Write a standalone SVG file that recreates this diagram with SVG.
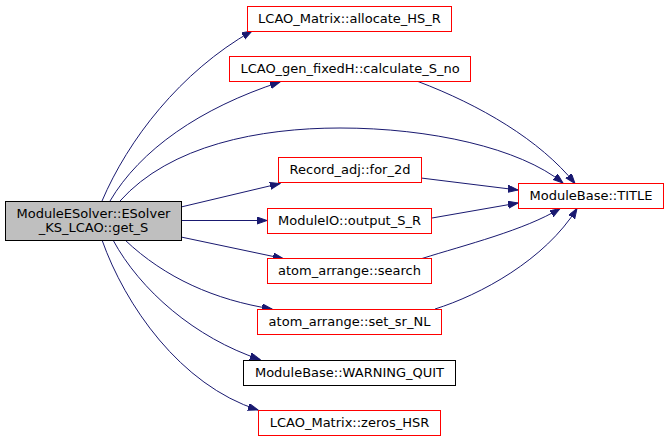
<svg xmlns="http://www.w3.org/2000/svg" width="669" height="443" viewBox="0 0 669 443">
<style>
.n rect{fill:#ffffff;stroke:#ff0000;stroke-width:1}
.n text{font-family:"DejaVu Sans",sans-serif;font-size:13px;fill:#000000;text-anchor:middle}
.e path{fill:none;stroke:#191970;stroke-width:1}
</style>
<defs>
<marker id="arr" markerWidth="11" markerHeight="8" refX="10" refY="3.5" orient="auto" markerUnits="userSpaceOnUse">
<polygon points="0,0 10,3.5 0,7" fill="#191970" stroke="#191970" stroke-width="1"/>
</marker>
</defs>
<rect width="669" height="443" fill="#ffffff"/>
<g id="edges" class="e">
<path d="M102,201 C128,140 180,72 252,31" marker-end="url(#arr)"/>
<path d="M110,201 C140,150 200,108 280,82" marker-end="url(#arr)"/>
<path d="M120,201 C170,145 260,128 340,128 C430,128 520,148 563,183" marker-end="url(#arr)"/>
<path d="M181,207 L280,183.5" marker-end="url(#arr)"/>
<path d="M181,220.5 L267,220.5" marker-end="url(#arr)"/>
<path d="M181,237 L283,258.5" marker-end="url(#arr)"/>
<path d="M125,240 C165,278 215,300 272,309" marker-end="url(#arr)"/>
<path d="M113,240 C140,290 195,338 260,359.5" marker-end="url(#arr)"/>
<path d="M102,240 C125,305 180,385 258,410" marker-end="url(#arr)"/>
<path d="M418,81.5 C480,105 540,140 575,183.5" marker-end="url(#arr)"/>
<path d="M421,178 L518,190" marker-end="url(#arr)"/>
<path d="M432,218 L518,203" marker-end="url(#arr)"/>
<path d="M422,258.5 C465,245 525,230 560,208.5" marker-end="url(#arr)"/>
<path d="M435,309 C480,295 545,260 577,208.5" marker-end="url(#arr)"/>
</g>
<g id="get_S" class="n">
<rect x="5.5" y="201.5" width="176" height="39" style="fill:#bfbfbf;stroke:#000000"/>
<text x="93.5" y="217.5">ModuleESolver::ESolver</text>
<text x="93.5" y="232">_KS_LCAO::get_S</text>
</g>
<g id="allocate_HS_R" class="n">
<rect x="247.5" y="6.5" width="204" height="25"/>
<text x="349.5" y="22.5">LCAO_Matrix::allocate_HS_R</text>
</g>
<g id="calculate_S_no" class="n">
<rect x="229.5" y="56.5" width="241" height="25"/>
<text x="350" y="72.5">LCAO_gen_fixedH::calculate_S_no</text>
</g>
<g id="for_2d" class="n">
<rect x="278.5" y="157.5" width="143" height="25"/>
<text x="350" y="173.5">Record_adj::for_2d</text>
</g>
<g id="output_S_R" class="n">
<rect x="267.5" y="208.5" width="164" height="25"/>
<text x="349.5" y="224.5">ModuleIO::output_S_R</text>
</g>
<g id="search" class="n">
<rect x="267.5" y="258.5" width="164" height="25"/>
<text x="349.5" y="274.5">atom_arrange::search</text>
</g>
<g id="set_sr_NL" class="n">
<rect x="257.5" y="309.5" width="184" height="25"/>
<text x="349.5" y="325.5">atom_arrange::set_sr_NL</text>
</g>
<g id="WARNING_QUIT" class="n">
<rect x="243.5" y="360.5" width="212" height="25" style="stroke:#000000"/>
<text x="349.5" y="376.5">ModuleBase::WARNING_QUIT</text>
</g>
<g id="zeros_HSR" class="n">
<rect x="258.5" y="410.5" width="182" height="25"/>
<text x="349.5" y="426.5">LCAO_Matrix::zeros_HSR</text>
</g>
<g id="TITLE" class="n">
<rect x="518.5" y="183.5" width="145" height="25"/>
<text x="591" y="199.5">ModuleBase::TITLE</text>
</g>
</svg>
